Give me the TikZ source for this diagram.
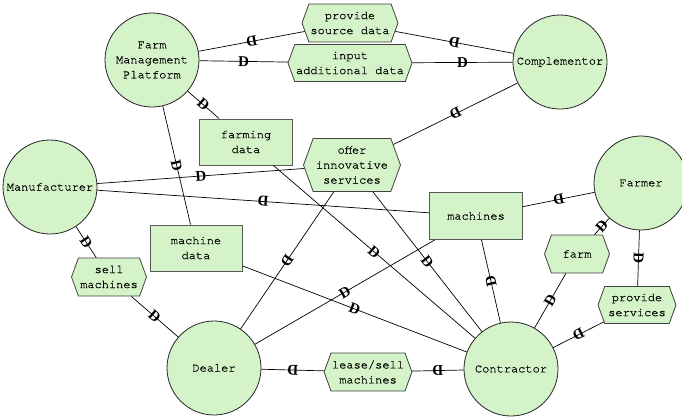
\documentclass[tikz,border=0pt]{standalone}
\usepackage{fontspec}
\usepackage{xcolor}
\usepackage{tikz}
\usetikzlibrary{shapes.symbols}
\newfontfamily\labelfont[FakeBold=0.6]{TeX Gyre Cursor}
\newfontfamily\depfont{Liberation Serif}
\definecolor{actorgreen}{RGB}{212,243,200}

\begin{document}
\begin{tikzpicture}[
    x=1pt, y=-1pt,
    every node/.style={font=\labelfont\fontsize{12}{15}\selectfont, align=center},
    actor/.style={circle, draw=black!85, line width=0.8pt, fill=actorgreen, minimum size=94pt, inner sep=0pt},
    task/.style={signal, signal to=east and west, signal pointer angle=140, draw=black!75, line width=0.8pt,
      fill=actorgreen, minimum height=38pt, inner xsep=1pt, inner ysep=0pt},
    res/.style={rectangle, draw=black!65, line width=1pt, fill=actorgreen, minimum width=93pt, minimum height=46pt},
    dep/.style={draw=black, line width=0.7pt},
    dmark/.style={sloped, allow upside down, inner sep=0pt, font=\depfont\bfseries\fontsize{15}{15}\selectfont}
  ]
  \useasboundingbox (0,0) rectangle (682,418);

  % actors
  \node[actor] (fmp) at (152,60) {Farm\\Management\\Platform};
  \node[actor] (comp) at (560,62) {Complementor};
  \node[actor] (manu) at (50,187) {Manufacturer};
  \node[actor] (farmer) at (641,183) {Farmer};
  \node[actor] (dealer) at (214,368) {Dealer};
  \node[actor] (contr) at (511,369) {Contractor};

  % tasks
  \node[task, minimum width=96pt] (psd) at (350,23) {provide\\source data};
  \node[task, minimum width=124pt, minimum height=37pt] (iad) at (350,63) {input\\additional data};
  \node[task, minimum width=97pt, minimum height=53pt] (offer) at (352,165) {offer\\innovative\\services};
  \node[task, minimum width=75pt] (sell) at (109,277) {sell\\machines};
  \node[task, minimum width=65pt] (farm) at (577,254) {farm};
  \node[task, minimum width=78pt, minimum height=37pt] (provs) at (637,305) {provide\\services};
  \node[task, minimum width=87pt] (lease) at (368,372) {lease/sell\\machines};

  % resources
  \node[res] (fdata) at (246,142) {farming\\data};
  \node[res, minimum width=92pt] (mdata) at (196,248) {machine\\data};
  \node[res, minimum height=47pt] (mach) at (476,216) {machines};

  % dependencies
  \foreach \a/\b in {psd/fmp, comp/psd, fmp/iad, iad/comp, fmp/fdata, fdata/contr,
      fmp/mdata, mdata/contr, manu/offer, comp/offer, offer/dealer, offer/contr,
      farmer/mach, mach/manu, dealer/mach, contr/mach, manu/sell, sell/dealer,
      contr/farm, farm/farmer, farmer/provs, provs/contr, contr/lease, lease/dealer}
    \draw[dep] (\a) -- node[dmark] {D} (\b);
\end{tikzpicture}
\end{document}
